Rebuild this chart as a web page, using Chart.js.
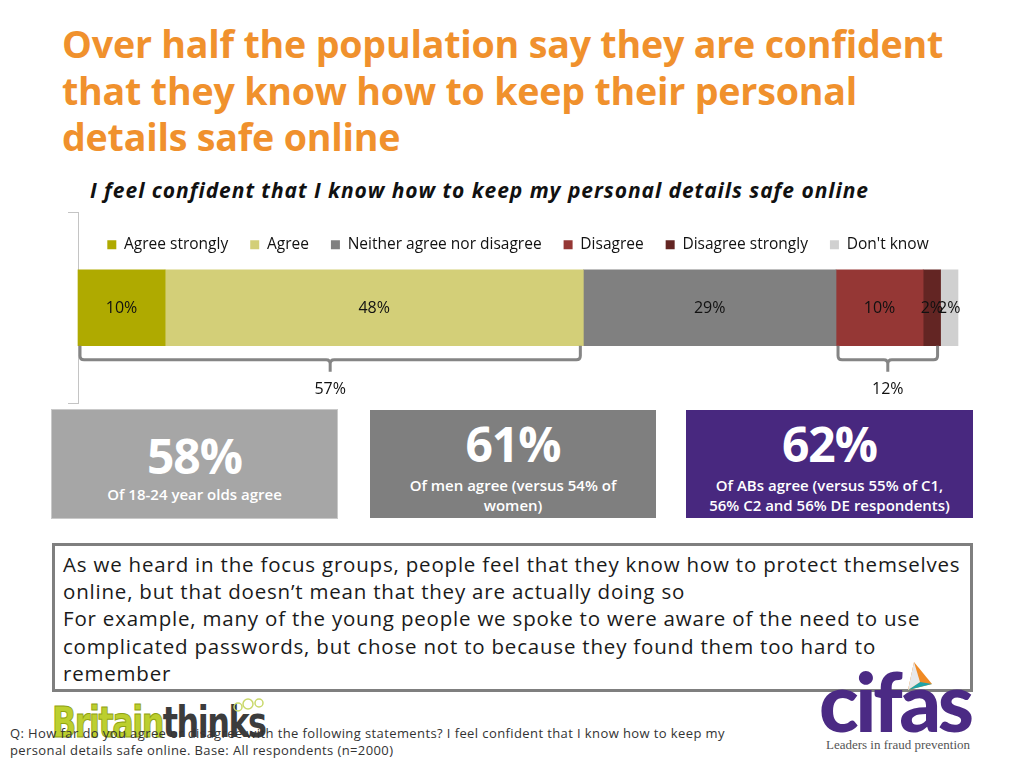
<!DOCTYPE html>
<html>
<head>
<meta charset="utf-8">
<script src="https://cdn.jsdelivr.net/npm/chart.js@4.4.0/dist/chart.umd.min.js"></script>
<style>
body { margin: 0; width: 1024px; height: 768px; position: relative; overflow: hidden; background: #fff; font-family: "Open Sans", sans-serif; }
.abs { position: absolute; }
#title { left: 62px; top: 21px; width: 960px; font-size: 37.6px; font-weight: 700; line-height: 46.5px; color: #f0912d; letter-spacing: -0.2px; white-space: nowrap; }
#subtitle { left: 90px; top: 176px; font-size: 21px; font-weight: 700; font-style: italic; color: #111; white-space: nowrap; letter-spacing: 0.95px; }
#chartbox { left: 0; top: 205px; width: 1024px; height: 215px; }
#sidebracket { left: 68px; top: 212px; width: 10px; height: 190px; border: 1px solid #c4c4c4; border-left: none; }
.box { top: 410px; height: 108px; color: #fff; text-align: center; }
.box .big { position: absolute; left: 0; right: 0; font-size: 48px; font-weight: 700; line-height: 56px; letter-spacing: -1px; }
.box .small { position: absolute; left: 6px; right: 6px; font-size: 15px; font-weight: 600; line-height: 20px; }
#note { left: 52px; top: 543px; width: 915px; height: 143px; border: 3px solid #7f7f7f; box-sizing: content-box; }
#note div { position: absolute; left: 8px; top: 5px; font-size: 20.5px; line-height: 27.2px; color: #1a1a1a; white-space: nowrap; letter-spacing: 0.8px; }
#footer { left: 10px; top: 725px; font-size: 13px; line-height: 17px; color: #333; z-index: 3; letter-spacing: 0.4px; white-space: nowrap; }
#bt { left: 52px; top: 698px; font-size: 42px; font-weight: 700; letter-spacing: -2px; line-height: 50px; z-index: 1; font-family: "DejaVu Sans", sans-serif; transform: scaleX(0.76); transform-origin: 0 0; white-space: nowrap; }
#cifas { left: 819px; top: 658px; font-size: 82px; font-weight: 900; color: #4b2a84; letter-spacing: -3.5px; line-height: 84px; font-family: "Lato", sans-serif; }
#cifasTag { left: 822px; top: 737px; width: 152px; text-align: center; font-family: "Liberation Serif", serif; font-size: 13px; color: #555; }
</style>
</head>
<body>
<div id="title" class="abs">Over half the population say they are confident<br>that they know how to keep their personal<br>details safe online</div>
<div id="subtitle" class="abs">I feel confident that I know how to keep my personal details safe online</div>
<div id="sidebracket" class="abs"></div>
<div id="chartbox" class="abs"><canvas id="chart"></canvas></div>

<div class="abs box" style="left:52px;width:285px;background:#a6a6a6;outline:1px solid #c9c9c9;">
  <div class="big" style="top:18px">58%</div>
  <div class="small" style="top:74px">Of 18-24 year olds agree</div>
</div>
<div class="abs box" style="left:370px;width:286px;background:#7f7f7f;">
  <div class="big" style="top:6px">61%</div>
  <div class="small" style="top:65px">Of men agree (versus 54% of<br>women)</div>
</div>
<div class="abs box" style="left:686px;width:287px;background:#48287f;">
  <div class="big" style="top:6px">62%</div>
  <div class="small" style="top:65px">Of ABs agree (versus 55% of C1,<br>56% C2 and 56% DE respondents)</div>
</div>

<div id="note" class="abs"><div>As we heard in the focus groups, people feel that they know how to protect themselves<br>online, but that doesn’t mean that they are actually doing so<br>For example, many of the young people we spoke to were aware of the need to use<br>complicated passwords, but chose not to because they found them too hard to<br>remember</div></div>

<div id="bt" class="abs"><span style="color:#bccf2e;-webkit-text-stroke:1px #8fa312">Britain</span><span style="color:#3c3c3c">thinks</span></div>
<svg class="abs" style="left:232px;top:697px;z-index:1" width="34" height="16"><circle cx="6" cy="10" r="4" fill="none" stroke="#c9d86a" stroke-width="1.5"/><circle cx="16" cy="7" r="5" fill="none" stroke="#c9d86a" stroke-width="1.5"/><circle cx="27" cy="6" r="4" fill="none" stroke="#c9d86a" stroke-width="1.5"/></svg>
<div id="cifas" class="abs">cifas</div>
<svg class="abs" style="left:904px;top:662px" width="30" height="30"><polygon points="10,0 28,22 4,28" fill="#f08a24"/><polygon points="4,28 28,22 16,20" fill="#1fa3a8"/><polygon points="10,0 16,20 4,28" fill="#e8e8ea"/></svg>
<div id="cifasTag" class="abs">Leaders in fraud prevention</div>
<div id="footer" class="abs">Q: How far do you agree or disagree with the following statements? I feel confident that I know how to keep my<br>personal details safe online. Base: All respondents (n=2000)</div>

<script>
const categories = ['I feel confident that I know how to keep my personal details safe online'];
const seriesNames = ['Agree strongly', 'Agree', 'Neither agree nor disagree', 'Disagree', 'Disagree strongly', "Don't know"];
const seriesValues = [10, 48, 29, 10, 2, 2];
const seriesColors = ['#afaa00', '#d3cf78', '#808080', '#953735', '#632523', '#d0d0d0'];
const netLabels = ['57%', '12%'];
const netFirst = [0, 3];
const netLast = [1, 4];

const datasets = seriesNames.map((name, i) => ({
    label: name,
    data: [seriesValues[i]],
    backgroundColor: seriesColors[i],
    borderWidth: 0,
    barThickness: 76,
    clip: false
}));

const labelPlugin = {
    id: 'segLabels',
    afterDatasetsDraw(chart) {
        const ctx = chart.ctx;
        ctx.save();
        ctx.font = '16px "Open Sans", sans-serif';
        ctx.fillStyle = '#111';
        ctx.textAlign = 'center';
        ctx.textBaseline = 'middle';
        chart.data.datasets.forEach((ds, i) => {
            const el = chart.getDatasetMeta(i).data[0];
            ctx.fillText(ds.data[0] + '%', (el.x + el.base) / 2, el.y + 1);
        });
        ctx.restore();
    }
};

const bracketPlugin = {
    id: 'netBrackets',
    afterDraw(chart) {
        const ctx = chart.ctx;
        ctx.save();
        ctx.strokeStyle = '#858585';
        ctx.lineWidth = 3;
        netLabels.forEach((lab, g) => {
            const a = chart.getDatasetMeta(netFirst[g]).data[0];
            const b = chart.getDatasetMeta(netLast[g]).data[0];
            const x0 = a.base + 2, x1 = b.x - 3;
            const top = a.y + a.height / 2;
            const hy = top + 14;
            const cx = (x0 + x1) / 2;
            ctx.beginPath();
            ctx.moveTo(x0, top);
            ctx.lineTo(x0, hy - 4);
            ctx.quadraticCurveTo(x0, hy, x0 + 4, hy);
            ctx.lineTo(cx - 4, hy);
            ctx.quadraticCurveTo(cx, hy, cx, hy + 4);
            ctx.lineTo(cx, hy + 12);
            ctx.moveTo(cx, hy + 4);
            ctx.quadraticCurveTo(cx, hy, cx + 4, hy);
            ctx.lineTo(x1 - 4, hy);
            ctx.quadraticCurveTo(x1, hy, x1, hy - 4);
            ctx.lineTo(x1, top);
            ctx.stroke();
            ctx.font = '16px "Open Sans", sans-serif';
            ctx.fillStyle = '#111';
            ctx.textAlign = 'center';
            ctx.textBaseline = 'middle';
            ctx.fillText(lab, cx, hy + 30);
        });
        ctx.restore();
    }
};

new Chart(document.getElementById('chart'), {
    type: 'bar',
    data: { labels: categories, datasets: datasets },
    options: {
        indexAxis: 'y',
        responsive: true,
        maintainAspectRatio: false,
        animation: false,
        layout: { padding: { left: 78, right: 66, top: 10, bottom: 67 } },
        scales: {
            x: { stacked: true, min: 0, max: 101, display: false },
            y: { stacked: true, display: false }
        },
        plugins: {
            legend: {
                position: 'top',
                labels: {
                    boxWidth: 9,
                    boxHeight: 9,
                    padding: 22,
                    color: '#111',
                    font: { family: '"Open Sans", sans-serif', size: 15.5 }
                }
            },
            tooltip: { enabled: false }
        }
    },
    plugins: [labelPlugin, bracketPlugin]
});
</script>
</body>
</html>
